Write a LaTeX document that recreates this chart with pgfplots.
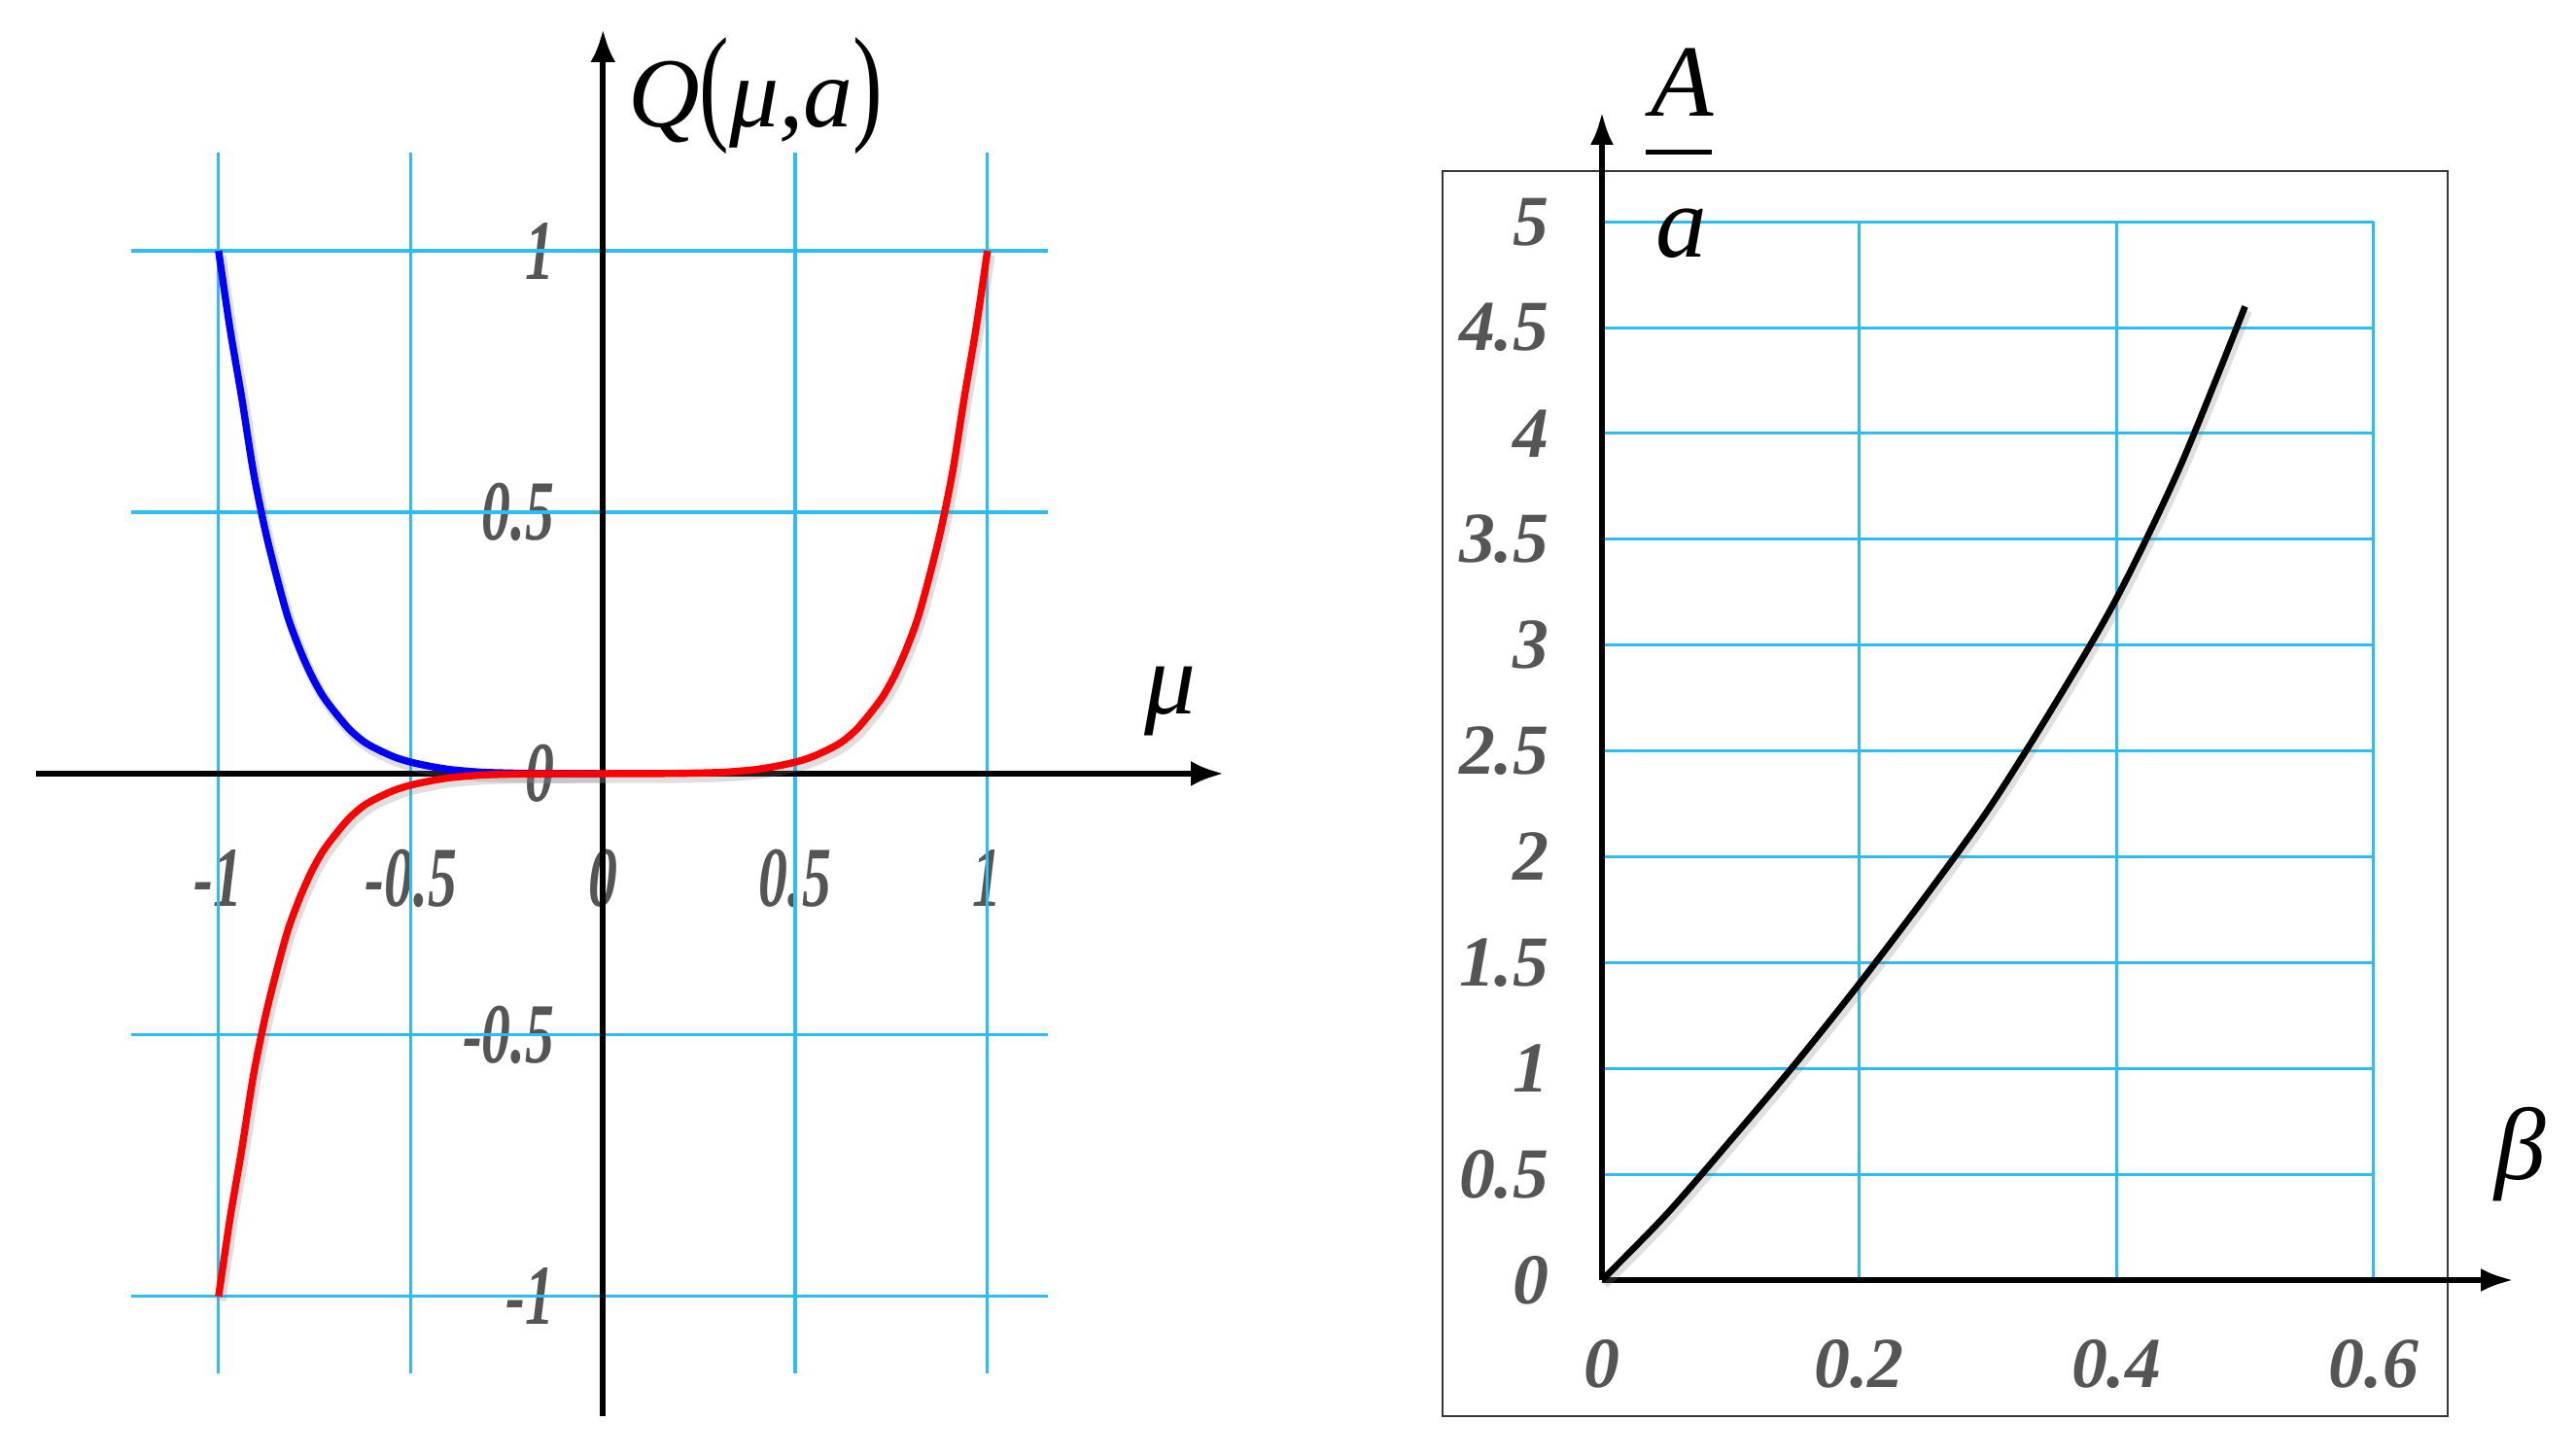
\documentclass[border=0pt]{standalone}
\usepackage{pgfplots}
\pgfplotsset{compat=1.18}
\usepackage{fontspec}
\setmainfont{Liberation Serif}
\usetikzlibrary{arrows.meta}
\definecolor{gridc}{RGB}{45,188,245}
\definecolor{tickc}{RGB}{85,85,85}
\definecolor{framec}{RGB}{55,55,55}
\newcommand\tl[1]{\scalebox{0.68}[1]{\bfseries\itshape #1}}
\newcommand\rt[1]{{\bfseries\itshape #1}}
\newcommand\bigf{\fontsize{30}{30}\selectfont\itshape}

\pgfplotstableread{
x y
-1.00 1.00
-0.97 0.85
-0.94 0.72
-0.91 0.58
-0.88 0.47
-0.85 0.38
-0.82 0.30
-0.79 0.24
-0.76 0.19
-0.73 0.15
-0.70 0.12
-0.66 0.085
-0.62 0.06
-0.58 0.044
-0.54 0.031
-0.50 0.022
-0.45 0.014
-0.40 0.008
-0.35 0.0045
-0.30 0.0022
-0.20 0.0005
-0.10 0.0001
0.00 0.0
}\bluedata

\pgfplotstableread{
x y
-1.00 -1.00
-0.97 -0.85
-0.94 -0.72
-0.91 -0.58
-0.88 -0.47
-0.85 -0.38
-0.82 -0.30
-0.79 -0.24
-0.76 -0.19
-0.73 -0.15
-0.70 -0.12
-0.66 -0.085
-0.62 -0.06
-0.58 -0.044
-0.54 -0.031
-0.50 -0.022
-0.45 -0.014
-0.40 -0.008
-0.35 -0.0045
-0.30 -0.0022
-0.20 -0.0005
-0.10 -0.0001
0.00 0.0
0.10 0.0001
0.20 0.0005
0.30 0.0022
0.35 0.0045
0.40 0.008
0.45 0.014
0.50 0.022
0.54 0.031
0.58 0.044
0.62 0.06
0.66 0.085
0.70 0.12
0.73 0.15
0.76 0.19
0.79 0.24
0.82 0.30
0.85 0.38
0.88 0.47
0.91 0.58
0.94 0.72
0.97 0.85
1.00 1.00
}\reddata

\pgfplotstableread{
x y
0.00 0.00
0.05 0.31
0.10 0.66
0.15 1.02
0.20 1.40
0.25 1.80
0.30 2.22
0.35 2.70
0.40 3.22
0.45 3.85
0.50 4.60
}\rightdata

\begin{document}
\begin{tikzpicture}
\useasboundingbox (0,0) rectangle (26.5,14.97);
\draw[framec, line width=0.8pt] (14.84,0.40) rectangle (25.18,13.21);

% ---------- left panel ----------
\begin{axis}[
  at={(0.37cm,0.40cm)}, anchor=south west,
  scale only axis, width=12.22cm, height=14.27cm,
  xmin=-1.475, xmax=1.615, ymin=-1.229, ymax=1.424,
  axis lines=middle, axis line style={draw=none},
  xtick={-1,-0.5,0,0.5,1},
  xticklabels={\tl{-1},\tl{-0.5},\tl{0},\tl{0.5},\tl{1}},
  ytick={-1,-0.5,0,0.5,1},
  yticklabels={\tl{-1},\tl{-0.5},\tl{0},\tl{0.5},\tl{1}},
  major tick length=0pt,
  hide obscured x ticks=false, hide obscured y ticks=false,
  ticklabel style={font=\fontsize{25}{25}\selectfont, text=tickc, inner sep=0pt},
  xticklabel style={anchor=center, yshift=-1.08cm},
  yticklabel style={anchor=east, xshift=-0.49cm},
  clip=false,
]
\draw[gridc, line width=0.9pt] (axis cs:-1.227,1) -- (axis cs:1.158,1);
\draw[gridc, line width=0.9pt] (axis cs:-1.227,0.5) -- (axis cs:1.158,0.5);
\draw[gridc, line width=0.9pt] (axis cs:-1.227,-0.5) -- (axis cs:1.158,-0.5);
\draw[gridc, line width=0.9pt] (axis cs:-1.227,-1) -- (axis cs:1.158,-1);
\draw[gridc, line width=0.9pt] (axis cs:-1,1.188) -- (axis cs:-1,-1.147);
\draw[gridc, line width=0.9pt] (axis cs:-0.5,1.188) -- (axis cs:-0.5,-1.147);
\draw[gridc, line width=0.9pt] (axis cs:0.5,1.188) -- (axis cs:0.5,-1.147);
\draw[gridc, line width=0.9pt] (axis cs:1,1.188) -- (axis cs:1,-1.147);
\draw[line width=1.7pt, -{Latex[length=0.34cm,width=0.26cm]}] (axis cs:-1.475,0) -- (axis cs:1.615,0);
\draw[line width=1.7pt, -{Latex[length=0.34cm,width=0.26cm]}] (axis cs:0,-1.229) -- (axis cs:0,1.424);
\addplot[gray, opacity=0.25, line width=3pt, xshift=0.025cm, yshift=-0.045cm, forget plot, smooth] table[x=x,y=y] {\bluedata};
\addplot[gray, opacity=0.25, line width=3pt, xshift=0.025cm, yshift=-0.045cm, forget plot, smooth] table[x=x,y=y] {\reddata};
\addplot[blue, line width=2.1pt, smooth, line join=round] table[x=x,y=y] {\bluedata};
\addplot[red, line width=2.1pt, smooth, line join=round] table[x=x,y=y] {\reddata};
\node at (axis cs:0.397,1.296) {\fontsize{29}{29}\selectfont\itshape Q\scalebox{0.9}[1.3]{\upshape(}μ,a\scalebox{0.9}[1.3]{\upshape)}};
\node at (axis cs:1.476,0.139) {\bigf μ};
\end{axis}

% ---------- right panel ----------
\begin{axis}[
  at={(16.48cm,1.80cm)}, anchor=south west,
  scale only axis, width=9.38cm, height=12.02cm,
  xmin=0, xmax=0.709, ymin=0, ymax=5.52,
  axis lines=middle, axis line style={draw=none},
  xtick={0,0.2,0.4,0.6},
  xticklabels={\rt{0},\rt{0.2},\rt{0.4},\rt{0.6}},
  ytick={0,0.5,1,1.5,2,2.5,3,3.5,4,4.5,5},
  yticklabels={\rt{0},\rt{0.5},\rt{1},\rt{1.5},\rt{2},\rt{2.5},\rt{3},\rt{3.5},\rt{4},\rt{4.5},\rt{5}},
  major tick length=0pt,
  hide obscured x ticks=false, hide obscured y ticks=false,
  ticklabel style={font=\fontsize{21}{21}\selectfont, text=tickc, inner sep=0pt},
  xticklabel style={anchor=center, yshift=-0.86cm},
  yticklabel style={anchor=east, xshift=-0.54cm},
  clip=false,
]
\draw[gridc, line width=0.85pt] (axis cs:0.2,0) -- (axis cs:0.2,5);
\draw[gridc, line width=0.85pt] (axis cs:0.4,0) -- (axis cs:0.4,5);
\draw[gridc, line width=0.85pt] (axis cs:0.6,0) -- (axis cs:0.6,5);
\draw[gridc, line width=0.85pt] (axis cs:0,0.5) -- (axis cs:0.6,0.5);
\draw[gridc, line width=0.85pt] (axis cs:0,1) -- (axis cs:0.6,1);
\draw[gridc, line width=0.85pt] (axis cs:0,1.5) -- (axis cs:0.6,1.5);
\draw[gridc, line width=0.85pt] (axis cs:0,2) -- (axis cs:0.6,2);
\draw[gridc, line width=0.85pt] (axis cs:0,2.5) -- (axis cs:0.6,2.5);
\draw[gridc, line width=0.85pt] (axis cs:0,3) -- (axis cs:0.6,3);
\draw[gridc, line width=0.85pt] (axis cs:0,3.5) -- (axis cs:0.6,3.5);
\draw[gridc, line width=0.85pt] (axis cs:0,4) -- (axis cs:0.6,4);
\draw[gridc, line width=0.85pt] (axis cs:0,4.5) -- (axis cs:0.6,4.5);
\draw[gridc, line width=0.85pt] (axis cs:0,5) -- (axis cs:0.6,5);
\draw[line width=1.7pt, -{Latex[length=0.34cm,width=0.24cm]}] (axis cs:0,0) -- (axis cs:0.709,0);
\draw[line width=1.7pt, -{Latex[length=0.34cm,width=0.24cm]}] (axis cs:0,0) -- (axis cs:0,5.52);
\addplot[gray, opacity=0.25, line width=2.8pt, xshift=0.025cm, yshift=-0.045cm, forget plot, smooth] table[x=x,y=y] {\rightdata};
\addplot[black, line width=1.9pt, smooth] table[x=x,y=y] {\rightdata};
\node at (axis cs:0.0627,5.66) {\bigf A};
\draw[line width=1.4pt] (axis cs:0.034,5.328) -- (axis cs:0.0854,5.328);
\node at (axis cs:0.062,4.947) {\bigf a};
\node at (axis cs:0.714,0.593) {\bigf β};
\end{axis}
\end{tikzpicture}
\end{document}
